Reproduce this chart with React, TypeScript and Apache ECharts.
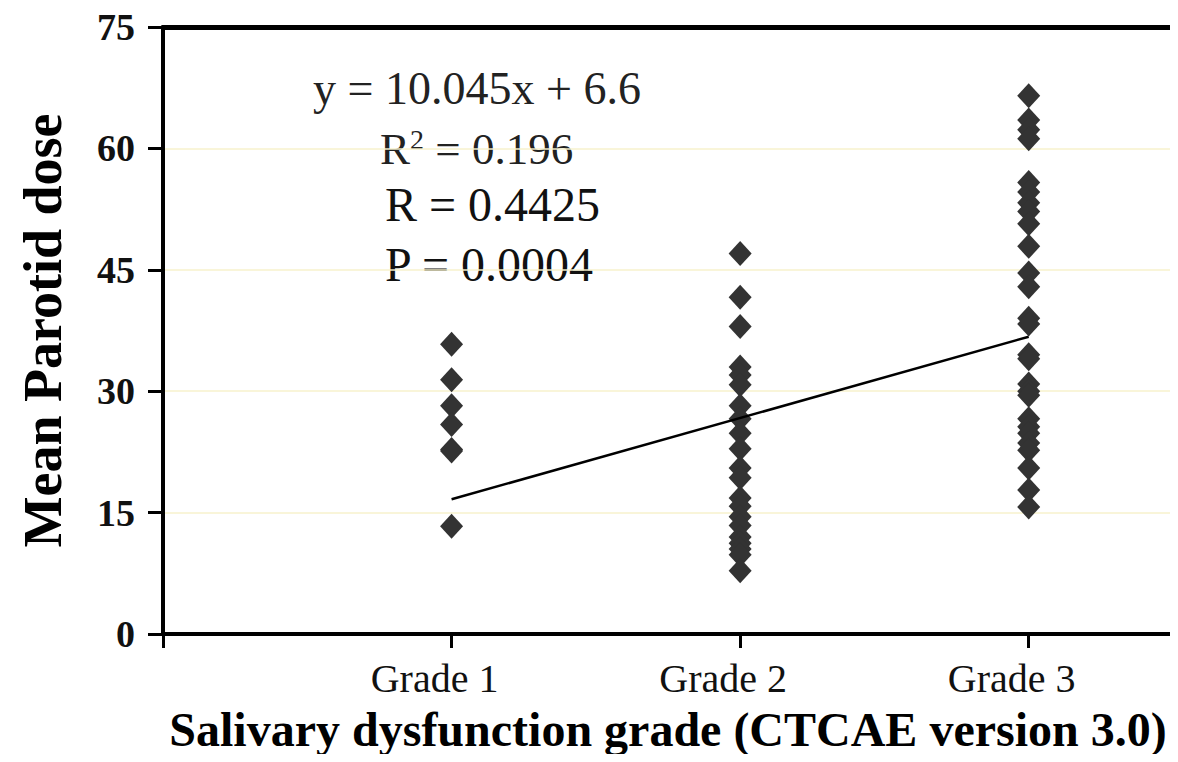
import React, { useEffect, useRef } from "react";
import * as echarts from "echarts";

const gradeLabels = ["Grade 1", "Grade 2", "Grade 3"];
const yTicks = [0, 15, 30, 45, 60, 75];

const grade1Values = [35.8, 31.4, 28.2, 25.9, 22.8, 22.6, 13.3];
const grade2Values = [
  47.0, 41.6, 38.0, 33.0, 32.0, 30.8, 28.2, 26.6, 24.8, 22.9, 20.5, 19.3,
  16.8, 15.8, 14.5, 13.4, 12.0, 11.2, 10.5, 9.8, 7.8,
];
const grade3Values = [
  66.5, 63.5, 62.3, 61.2, 55.8, 54.6, 53.3, 52.2, 50.7, 47.9, 44.6, 42.9,
  39.0, 38.3, 34.5, 34.0, 30.9, 30.0, 29.5, 26.6, 25.6, 24.8, 23.6, 22.7,
  20.5, 17.8, 15.7,
];

const slope = 10.045;
const intercept = 6.6;
const fitRange = [1, 3];

const eqText = "y = 10.045x + 6.6";
const r2Value = "0.196";
const rText = "R = 0.4425";
const pText = "P = 0.0004";

const SERIF = "'Liberation Serif', 'Times New Roman', serif";

export default function App() {
  const ref = useRef<HTMLDivElement>(null);

  useEffect(() => {
    if (!ref.current) return;
    const chart = echarts.init(ref.current, null, { renderer: "svg" });

    const points: number[][] = [];
    [grade1Values, grade2Values, grade3Values].forEach((arr, i) => {
      arr.forEach((v) => points.push([i + 1, v]));
    });
    const fit = fitRange.map((x) => [x, slope * x + intercept]);

    chart.setOption({
      animation: false,
      backgroundColor: "#ffffff",
      grid: {
        left: 163,
        right: 5,
        top: 27,
        bottom: 128,
      },
      xAxis: [
        {
          type: "value",
          min: 0,
          max: 3.5,
          interval: 1,
          name: "Salivary dysfunction grade (CTCAE version 3.0)",
          nameLocation: "middle",
          nameGap: 71,
          nameTextStyle: {
            fontFamily: SERIF,
            fontWeight: "bold",
            fontSize: 48,
            color: "#000",
          },
          axisLine: { show: true, onZero: false, lineStyle: { color: "#000", width: 4 } },
          axisTick: {
            show: true,
            length: 14,
            customValues: [0, 1, 2, 3],
            lineStyle: { color: "#000", width: 3 },
          },
          axisLabel: {
            customValues: [1, 2, 3],
            formatter: (v: number) => gradeLabels[Math.round(v) - 1] ?? "",
            fontFamily: SERIF,
            fontSize: 40,
            color: "#111",
            margin: 24,
            padding: [0, 34, 0, 0],
          },
          splitLine: { show: false },
        },
        {
          type: "value",
          position: "top",
          min: 0,
          max: 3.5,
          axisLine: { show: true, onZero: false, lineStyle: { color: "#000", width: 5 } },
          axisTick: { show: false },
          axisLabel: { show: false },
          splitLine: { show: false },
        },
      ],
      yAxis: [
        {
          type: "value",
          min: 0,
          max: 75,
          interval: 15,
          name: "Mean Parotid dose",
          nameLocation: "middle",
          nameGap: 93,
          nameTextStyle: {
            fontFamily: SERIF,
            fontWeight: "bold",
            fontSize: 54,
            color: "#000",
          },
          axisLine: { show: true, onZero: false, lineStyle: { color: "#000", width: 4 } },
          axisTick: { show: true, length: 15, lineStyle: { color: "#000", width: 3 } },
          axisLabel: {
            formatter: (v: number) => (yTicks.includes(v) ? String(v) : ""),
            fontFamily: SERIF,
            fontWeight: "bold",
            fontSize: 38,
            color: "#111",
            margin: 28,
          },
          splitLine: { show: true, lineStyle: { color: "#f7f2cc", width: 1.5 } },
        },
        {
          type: "value",
          position: "right",
          min: 0,
          max: 75,
          axisLine: { show: true, onZero: false, lineStyle: { color: "#000", width: 3 } },
          axisTick: { show: false },
          axisLabel: { show: false },
          splitLine: { show: false },
        },
      ],
      series: [
        {
          type: "scatter",
          data: points,
          symbol: "diamond",
          symbolSize: [23, 25],
          itemStyle: { color: "#333333", opacity: 1 },
          z: 3,
        },
        {
          type: "line",
          data: fit,
          symbol: "none",
          lineStyle: { color: "#000", width: 2.5 },
          z: 4,
        },
      ],
      graphic: [
        {
          type: "text",
          x: 313,
          y: 88,
          style: { text: eqText, fontFamily: SERIF, fontSize: 46, fill: "#222", verticalAlign: "middle" },
        },
        {
          type: "text",
          x: 380,
          y: 148,
          style: {
            text: "{a|R}{s|2}{a| = " + r2Value + "}",
            verticalAlign: "middle",
            rich: {
              a: { fontFamily: SERIF, fontSize: 45, fill: "#222", verticalAlign: "bottom" },
              s: { fontFamily: SERIF, fontSize: 28, fill: "#222", verticalAlign: "top", padding: [0, 0, 18, 0] },
            },
          },
        },
        {
          type: "text",
          x: 385,
          y: 204,
          style: { text: rText, fontFamily: SERIF, fontSize: 48, fill: "#111", verticalAlign: "middle" },
        },
        {
          type: "text",
          x: 385,
          y: 264,
          style: { text: pText, fontFamily: SERIF, fontSize: 48, fill: "#111", verticalAlign: "middle" },
        },
      ],
    });

    return () => chart.dispose();
  }, []);

  return <div ref={ref} style={{ width: 1178, height: 762, margin: -8 }} />;
}
